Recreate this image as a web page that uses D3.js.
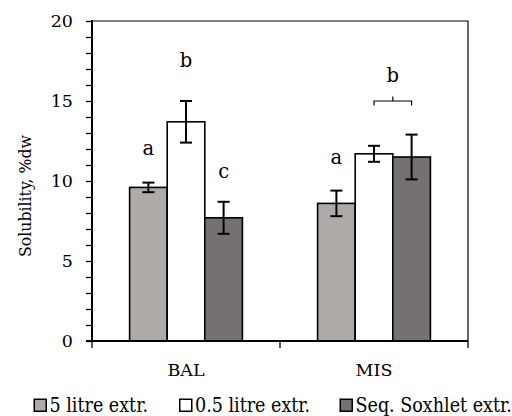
<!DOCTYPE html>
<html>
<head>
<meta charset="utf-8">
<script src="https://cdn.jsdelivr.net/npm/d3@7"></script>
<style>
  html, body { margin: 0; padding: 0; background: #fff; }
  svg { display: block; }
  text { font-family: "DejaVu Serif", "Liberation Serif", serif; fill: #000; }
  text.narrow { font-family: "DejaVu Serif Condensed", "DejaVu Serif", serif; font-stretch: condensed; }
</style>
</head>
<body>
<svg id="chart" width="512" height="416"></svg>
<script>
// Solubility (% dry weight) by biomass and extraction method
const categories = ["BAL", "MIS"];
const seriesNames = ["5 litre extr.", "0.5 litre extr.", "Seq. Soxhlet extr."];
const seriesColors = ["#afaaa8", "#ffffff", "#767170"];
const values5L = [9.6, 8.6];
const errors5L = [0.3, 0.8];
const values05L = [13.7, 11.7];
const errors05L = [1.3, 0.5];
const valuesSoxhlet = [7.7, 11.5];
const errorsSoxhlet = [1.0, 1.4];
const yTicks = [0, 5, 10, 15, 20];
// significance letters: category, series index, height of baseline (data units)
const letterCategory = ["BAL", "BAL", "BAL", "MIS"];
const letterSeries = [0, 1, 2, 0];
const letterText = ["a", "b", "c", "a"];
const letterY = [11.65, 17.15, 10.2, 11.05];
// shared letter over the bracket spanning the last two MIS bars
const bracketCategory = "MIS";
const bracketSeries = [1, 2];
const bracketText = "b";
const bracketY = 15.0;
const bracketTextY = 16.2;

const seriesValues = [values5L, values05L, valuesSoxhlet];
const seriesErrors = [errors5L, errors05L, errorsSoxhlet];

const svg = d3.select("#chart");
const plot = { left: 92, right: 468, top: 21, bottom: 341 };

const x0 = d3.scaleBand().domain(categories).range([plot.left, plot.right]).padding(0);
const x1 = d3.scaleBand().domain(d3.range(seriesNames.length))
  .range([x0.bandwidth() * 0.2, x0.bandwidth() * 0.8]).padding(0);
const y = d3.scaleLinear().domain([0, 20]).range([plot.bottom, plot.top]);

// top and right frame
svg.append("path")
  .attr("d", `M${plot.left},${plot.top}H${plot.right}V${plot.bottom}`)
  .attr("fill", "none").attr("stroke", "#000").attr("stroke-width", 1.2);

// bars
const rows = categories.map((c, i) => ({
  cat: c,
  items: seriesNames.map((s, k) => ({ k, v: seriesValues[k][i], e: seriesErrors[k][i] }))
}));

const groups = svg.append("g").selectAll("g").data(rows).join("g")
  .attr("transform", d => `translate(${x0(d.cat)},0)`);

groups.selectAll("rect").data(d => d.items).join("rect")
  .attr("x", d => x1(d.k))
  .attr("y", d => y(d.v))
  .attr("width", x1.bandwidth())
  .attr("height", d => y(0) - y(d.v))
  .attr("fill", d => seriesColors[d.k])
  .attr("stroke", "#000").attr("stroke-width", 1.6);

// error bars
const capW = 6;
const eb = groups.selectAll("g.err").data(d => d.items).join("g").attr("class", "err")
  .attr("stroke", "#000").attr("stroke-width", 2);
eb.append("line")
  .attr("x1", d => x1(d.k) + x1.bandwidth() / 2).attr("x2", d => x1(d.k) + x1.bandwidth() / 2)
  .attr("y1", d => y(d.v - d.e)).attr("y2", d => y(d.v + d.e));
eb.append("line")
  .attr("x1", d => x1(d.k) + x1.bandwidth() / 2 - capW).attr("x2", d => x1(d.k) + x1.bandwidth() / 2 + capW)
  .attr("y1", d => y(d.v + d.e)).attr("y2", d => y(d.v + d.e));
eb.append("line")
  .attr("x1", d => x1(d.k) + x1.bandwidth() / 2 - capW).attr("x2", d => x1(d.k) + x1.bandwidth() / 2 + capW)
  .attr("y1", d => y(d.v - d.e)).attr("y2", d => y(d.v - d.e));

// y axis: labelled major ticks plus unlabelled unit ticks
const yAxis = svg.append("g").attr("transform", `translate(${plot.left},0)`);
yAxis.call(d3.axisLeft(y).tickValues(d3.range(0, 21, 1)).tickSize(6).tickFormat(""))
  .call(g => g.select(".domain").remove())
  .call(g => g.selectAll(".tick line").attr("stroke", "#000").attr("stroke-width", 1.3));
yAxis.append("line").attr("x1", 0).attr("x2", 0).attr("y1", plot.top - 1).attr("y2", plot.bottom + 1)
  .attr("stroke", "#000").attr("stroke-width", 2);
yAxis.selectAll("text.lbl").data(yTicks).join("text").attr("class", "lbl")
  .attr("x", -19).attr("y", d => y(d)).attr("dy", "0.36em")
  .attr("text-anchor", "end").attr("font-size", 17.5).text(d => d);

// x axis with boundary ticks
const xAxis = svg.append("g").attr("transform", `translate(0,${plot.bottom})`);
const xBounds = categories.map(c => x0(c)).concat([plot.right]);
xAxis.append("line").attr("x1", plot.left - 6).attr("x2", plot.right).attr("y1", 0).attr("y2", 0)
  .attr("stroke", "#000").attr("stroke-width", 2);
xAxis.selectAll("line.tk").data(xBounds).join("line").attr("class", "tk")
  .attr("x1", d => d).attr("x2", d => d).attr("y1", 0).attr("y2", 7)
  .attr("stroke", "#000").attr("stroke-width", 1.3);
xAxis.selectAll("text").data(categories).join("text")
  .attr("x", d => x0(d) + x0.bandwidth() / 2).attr("y", 34.5)
  .attr("text-anchor", "middle").attr("font-size", 17.5).text(d => d);

// axis title
svg.append("text").attr("class", "narrow")
  .attr("transform", "translate(31,196) rotate(-90)")
  .attr("text-anchor", "middle").attr("font-size", 17.5)
  .text("Solubility, %dw");

// significance letters
const letters = svg.append("g").attr("font-size", 19.5).attr("text-anchor", "middle");
letterText.forEach((t, i) => {
  letters.append("text")
    .attr("x", x0(letterCategory[i]) + x1(letterSeries[i]) + x1.bandwidth() / 2)
    .attr("y", y(letterY[i]))
    .text(t);
});
const bx1 = x0(bracketCategory) + x1(bracketSeries[0]) + x1.bandwidth() / 2;
const bx2 = x0(bracketCategory) + x1(bracketSeries[1]) + x1.bandwidth() / 2;
const bmid = (bx1 + bx2) / 2;
svg.append("path")
  .attr("d", `M${bx1},${y(bracketY) + 4.5}V${y(bracketY)}H${bx2}V${y(bracketY) + 4.5}M${bmid},${y(bracketY)}V${y(bracketY) - 4.5}`)
  .attr("fill", "none").attr("stroke", "#000").attr("stroke-width", 1.2);
letters.append("text").attr("x", bmid).attr("y", y(bracketTextY)).text(bracketText);

// legend
const legendX = [33.5, 179, 339.5];
const legend = svg.append("g").selectAll("g").data(seriesNames).join("g")
  .attr("transform", (d, i) => `translate(${legendX[i]},398.5)`);
legend.append("rect").attr("x", 0.75).attr("y", 0.75).attr("width", 12).attr("height", 12)
  .attr("fill", (d, i) => seriesColors[i]).attr("stroke", "#000").attr("stroke-width", 1.5);
legend.append("text").attr("class", "narrow").attr("x", 16).attr("y", 13.2)
  .attr("font-size", 19.5).text(d => d);
</script>
</body>
</html>
